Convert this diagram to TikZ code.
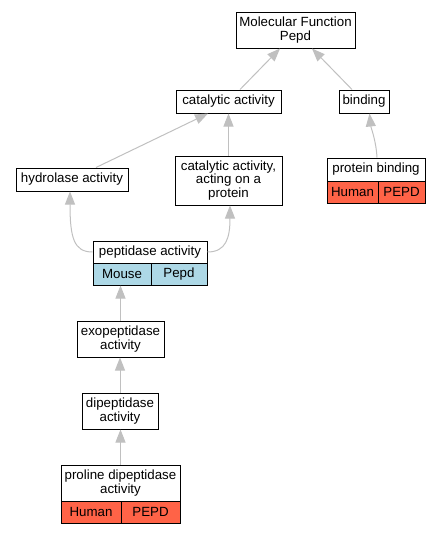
\documentclass[tikz,border=0pt]{standalone}
\usepackage{fontspec}
\setmainfont{Liberation Sans}
\usetikzlibrary{arrows.meta}
\definecolor{edgegray}{HTML}{C0C0C0}
\definecolor{humanred}{HTML}{FF6347}
\definecolor{mouseblue}{HTML}{ADD8E6}

\begin{document}
\begin{tikzpicture}[
    x=1pt, y=-1pt,
    term/.style={
        rectangle,
        draw=black,
        fill=white,
        line width=1pt,
        inner sep=0pt,
        align=center,
        font=\fontsize{13.3}{13.8}\selectfont
    },
    human/.style={term, fill=humanred, minimum height=22pt},
    mouse/.style={term, fill=mouseblue, minimum height=22pt},
    isa/.style={
        -{Triangle[length=13pt, width=10pt]},
        edgegray,
        line width=1pt
    }
]
\useasboundingbox (0,0) rectangle (440,533);

% Termini
\node[term, minimum width=119pt, minimum height=36pt] (mf) at (295.5,30) {Molecular Function\\Pepd};
\node[term, minimum width=105pt, minimum height=23pt] (cat) at (228.5,101.5) {catalytic activity};
\node[term, minimum width=50pt, minimum height=23pt] (bind) at (364,101.5) {binding};
\node[term, minimum width=112pt, minimum height=23pt] (hyd) at (72,179.5) {hydrolase activity};
\node[term, minimum width=107pt, minimum height=49pt] (cap) at (228.5,180.5) {catalytic activity,\\acting on a\\protein};

\node[term, minimum width=98pt, minimum height=23pt] (pb) at (376,169.5) {protein binding};
\node[human, minimum width=51pt] (pbhuman) at (352.5,192) {Human};
\node[human, minimum width=47pt] (pbgene) at (401.5,192) {PEPD};

\node[term, minimum width=114pt, minimum height=22pt] (pep) at (150,252) {peptidase activity};
\node[mouse, minimum width=58pt] (pepmouse) at (122,274) {Mouse};
\node[mouse, minimum width=56pt] (pepgene) at (179,274) {Pepd};

\node[term, minimum width=87pt, minimum height=36pt] (exo) at (120.5,339) {exopeptidase\\activity};
\node[term, minimum width=76pt, minimum height=36pt] (dip) at (120,411) {dipeptidase\\activity};

\node[term, minimum width=119pt, minimum height=36pt] (pro) at (120.5,483) {proline dipeptidase\\activity};
\node[human, minimum width=60pt] (prohuman) at (91,512) {Human};
\node[human, minimum width=59pt] (progene) at (150.5,512) {PEPD};

% Archi is_a
\draw[isa] ([xshift=11.5pt]cat.north) -- ([xshift=-15.5pt]mf.south);
\draw[isa] ([xshift=-12pt]bind.north) -- ([xshift=16.5pt]mf.south);
\draw[isa] ([xshift=24pt]hyd.north) -- ([xshift=-20.5pt]cat.south);
\draw[isa] (cap.north) -- (cat.south);
\draw[isa] ([xshift=1pt]pb.north) .. controls (376,140) and (371,128) .. ([xshift=5.5pt]bind.south);
\draw[isa] (pep.west) .. controls (74,252) and (70,238) .. ([xshift=-2pt]hyd.south);
\draw[isa] (pep.east) .. controls (226,252) and (230,238) .. ([xshift=1.5pt]cap.south);
\draw[isa] (exo.north) -- (exo.north |- pepmouse.south);
\draw[isa] (dip.north) -- (dip.north |- exo.south);
\draw[isa] (pro.north) -- (pro.north |- dip.south);

\end{tikzpicture}
\end{document}
